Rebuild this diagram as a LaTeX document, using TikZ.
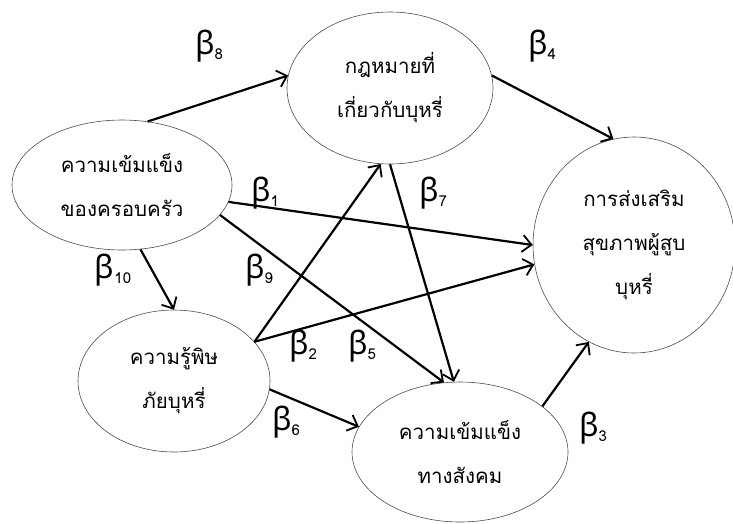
\documentclass[tikz,border=0pt]{standalone}
\usepackage{fontspec}
\usetikzlibrary{shapes.geometric,arrows.meta}
\newfontfamily\thaifont[Script=Thai]{Loma}
\newfontfamily\betafont{Noto Sans}
\newcommand{\bsub}[1]{{\betafont\fontsize{32}{32}\selectfont β}{\thaifont\fontsize{15}{15}\selectfont\raisebox{-5pt}{#1}}}
\tikzset{
  var/.style={ellipse, draw=black!70, line width=0.6pt, inner sep=0pt, align=center,
    font=\thaifont\fontsize{20.5}{44}\selectfont},
  path/.style={line width=2.2pt, -{Straight Barb[length=9pt,width=17pt,line width=1.8pt]}},
  coef/.style={inner sep=0pt}
}
\begin{document}
\begin{tikzpicture}[x=1pt,y=-1pt]
\useasboundingbox (0,0) rectangle (733,523);
\node[var, minimum width=220pt, minimum height=130pt] (fam) at (122,185) {ความเข้มแข็ง\\ของครอบครัว};
\node[var, minimum width=206pt, minimum height=152pt] (law) at (390,88) {กฎหมายที่\\เกี่ยวกับบุหรี่};
\node[var, minimum width=202pt, minimum height=216pt] (hp) at (634,245) {การส่งเสริม\\สุขภาพผู้สูบ\\บุหรี่};
\node[var, minimum width=192pt, minimum height=142pt] (know) at (174,381) {ความรู้พิษ\\ภัยบุหรี่};
\node[var, minimum width=216pt, minimum height=140pt] (soc) at (460,452) {ความเข้มแข็ง\\ทางสังคม};

\draw[path] (fam.68) -- (law.173);
\draw[path] (law.7) -- (hp.101);
\draw[path] (fam.-9.5) -- (hp.180);
\draw[path] (fam.-17) -- (soc.103.6);
\draw[path] (fam.-74.5) -- (know.90);
\draw[path] (know.26.6) -- (law.-97);
\draw[path] (know.26.6) -- (hp.191);
\draw[path] (law.-90) -- (soc.95.7);
\draw[path] (know.-5.4) -- (soc.166);
\draw[path] (soc.29.8) -- (hp.-115);

\node[coef] (b8) at (209,46) {\bsub{8}};
\node[coef] (b4) at (542,46) {\bsub{4}};
\node[coef] (b1) at (265,193) {\bsub{1}};
\node[coef] (b7) at (433,193) {\bsub{7}};
\node[coef] (b10) at (113,270) {\bsub{10}};
\node[coef] (b9) at (259,270) {\bsub{9}};
\node[coef] (b2) at (303,346) {\bsub{2}};
\node[coef] (b5) at (362,346) {\bsub{5}};
\node[coef] (b6) at (286,422) {\bsub{6}};
\node[coef] (b3) at (593,428) {\bsub{3}};
\end{tikzpicture}
\end{document}
